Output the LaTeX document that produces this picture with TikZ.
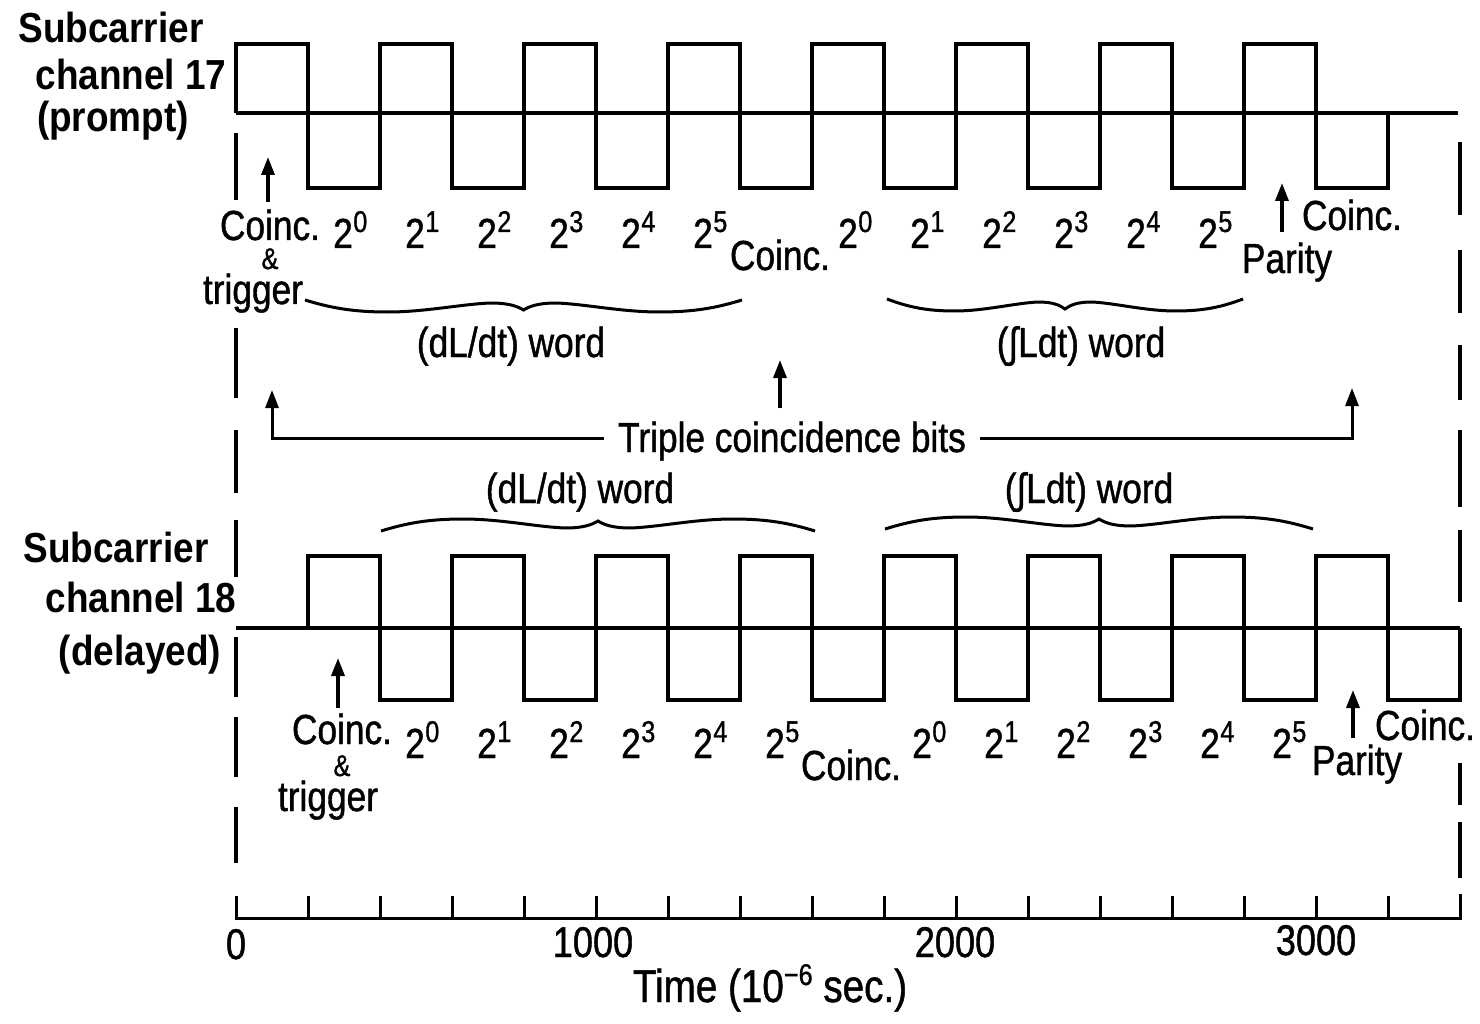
\documentclass[tikz,border=0pt]{standalone}
\usepackage{fontspec}
\setmainfont[FakeStretch=0.84,FakeBold=1]{Liberation Sans}
\newfontfamily\lblfont[FakeStretch=0.88]{Liberation Sans}
\usetikzlibrary{arrows.meta}
\newcommand\pwr[1]{2\kern0.5pt\raisebox{16pt}{\fontsize{30}{30}\selectfont #1}}
\newcommand\ampsign{{\fontsize{30}{30}\selectfont\&}}
% wavy brace: #1 = left x, #2 = half width, #3 = y of ends, #4 = +1 (tip down) or -1 (tip up)
\newcommand\wbrace[4]{%
  \draw[brc, shift={(#1,#3)}, xscale=#2, yscale=#4]
    (0,0) .. controls (0.12,8) and (0.22,12) .. (0.38,12)
          .. controls (0.55,12) and (0.72,4) .. (0.85,3)
          .. controls (0.93,3) and (0.97,6) .. (1,10)
          .. controls (1.03,6) and (1.07,3) .. (1.15,3)
          .. controls (1.28,4) and (1.45,12) .. (1.62,12)
          .. controls (1.78,12) and (1.88,8) .. (2,0);}
\begin{document}
\begin{tikzpicture}[x=1pt,y=-1pt,
  wave/.style={line width=3.4pt, line join=miter},
  txt/.style={font=\fontsize{42}{44}\selectfont, inner sep=0pt, anchor=base},
  bit/.style={txt, anchor=base west},
  num/.style={font=\fontsize{43}{45}\selectfont, inner sep=0pt, anchor=base},
  lbl/.style={font=\lblfont\bfseries\fontsize{42}{44}\selectfont, inner sep=0pt, anchor=base},
  arr/.style={line width=3.4pt, -{Triangle[length=18pt,width=13pt]}},
  dsh/.style={line width=4pt},
  brc/.style={line width=3pt},
]
\fill[white] (0,0) rectangle (1480,1024);
\useasboundingbox (0,0) rectangle (1480,1024);

% ---------- left labels ----------
\node[lbl] (s17a) at (111,43) {Subcarrier};
\node[lbl] (s17b) at (131,90) {channel 17};
\node[lbl] (s17c) at (113,132) {(prompt)};
\node[lbl] (s18a) at (116,562) {Subcarrier};
\node[lbl] (s18b) at (141,612) {channel 18};
\node[lbl] (s18c) at (140,665) {(delayed)};

% ---------- top waveform (channel 17) ----------
\draw[wave] (236,113) -- (1458,113);
\draw[wave] (236,113) -- (236,44) -- (308,44) -- (308,188) -- (380,188)
  -- (380,44) -- (452,44) -- (452,188) -- (524,188)
  -- (524,44) -- (596,44) -- (596,188) -- (668,188)
  -- (668,44) -- (740,44) -- (740,188) -- (812,188)
  -- (812,44) -- (884,44) -- (884,188) -- (956,188)
  -- (956,44) -- (1028,44) -- (1028,188) -- (1100,188)
  -- (1100,44) -- (1172,44) -- (1172,188) -- (1244,188)
  -- (1244,44) -- (1316,44) -- (1316,188) -- (1388,188) -- (1388,113);

% ---------- bottom waveform (channel 18) ----------
\draw[wave] (236,628) -- (1460,628);
\draw[wave] (308,628) -- (308,556) -- (380,556) -- (380,700) -- (452,700)
  -- (452,556) -- (524,556) -- (524,700) -- (596,700)
  -- (596,556) -- (668,556) -- (668,700) -- (740,700)
  -- (740,556) -- (812,556) -- (812,700) -- (884,700)
  -- (884,556) -- (956,556) -- (956,700) -- (1028,700)
  -- (1028,556) -- (1100,556) -- (1100,700) -- (1172,700)
  -- (1172,556) -- (1244,556) -- (1244,700) -- (1316,700)
  -- (1316,556) -- (1388,556) -- (1388,700) -- (1460,700) -- (1460,628);

% ---------- dashed verticals ----------
\foreach \a/\b in {133/200,328/398,430/493,520/577,637/697,717/777,807/863}
  \draw[dsh] (236,\a) -- (236,\b);
\foreach \a/\b in {142/215,250/313,345/400,430/507,530/602,763/805,822/878}
  \draw[dsh] (1460,\a) -- (1460,\b);

% ---------- time axis ----------
\draw[line width=3pt] (236,896) -- (236,918) -- (1460,918) -- (1460,894);
\foreach \k in {1,...,16}
  \draw[line width=3pt] ({236+72*\k},918) -- ({236+72*\k},896);
\node[num] (n0) at (236,959) {0};
\node[num] (n1) at (593,957) {1000};
\node[num] (n2) at (955,957) {2000};
\node[num] (n3) at (1316,955) {3000};
\node[txt, font=\fontsize{46}{48}\selectfont] (tax) at (770,1002) {Time (10\raisebox{17pt}{\fontsize{30}{30}\selectfont −6} sec.)};

% ---------- top row labels ----------
\node[txt] (tc1) at (270,240) {\begin{tabular}[t]{@{}c@{}}Coinc.\\[-15pt]\ampsign\\[-9pt]trigger\hspace*{34pt}\end{tabular}};
\foreach \k in {0,...,5} \node[bit] (ta\k) at ({333+72*\k},248) {\pwr{\k}};
\node[txt] (tc2) at (780,270) {Coinc.};
\foreach \k in {0,...,5} \node[bit] (tb\k) at ({838+72*\k},248) {\pwr{\k}};
\node[txt] (tp) at (1287,273) {Parity};
\node[txt] (tc3) at (1352,230) {Coinc.};
\coordinate (a1s) at (268,202); \coordinate (a1e) at (268,157);
\draw[arr] (a1s) -- (a1e);
\coordinate (a2s) at (1282,232); \coordinate (a2e) at (1282,183);
\draw[arr] (a2s) -- (a2e);

% ---------- top braces ----------
\wbrace{305}{218.5}{300}{1}
\node[txt] (w1) at (511,357) {(dL/dt) word};
\wbrace{887}{178}{299}{1}
\node[txt] (w2) at (1081,357) {(∫Ldt) word};

% ---------- triple coincidence ----------
\node[txt, text height=32pt, text depth=4pt, inner xsep=14pt] (tcb) at (792,452) {Triple coincidence bits};
\coordinate (tlt) at (272,390);
\coordinate (trt) at (1352,388);
\draw[arr, line width=3pt] (tcb.west) -| (tlt);
\draw[arr, line width=3pt] (tcb.east) -| (trt);
\coordinate (mas) at (780,408); \coordinate (mae) at (780,360);
\draw[arr] (mas) -- (mae);

% ---------- bottom braces ----------
\node[txt] (w3) at (580,503) {(dL/dt) word};
\wbrace{381}{217}{531}{-1}
\node[txt] (w4) at (1089,503) {(∫Ldt) word};
\wbrace{885}{214}{529}{-1}

% ---------- bottom row labels ----------
\node[txt] (bc1) at (342,744) {\begin{tabular}[t]{@{}c@{}}Coinc.\\[-12pt]\ampsign\\[-9pt]trigger\hspace*{28pt}\end{tabular}};
\foreach \k in {0,...,5} \node[bit] (ba\k) at ({405+72*\k},758) {\pwr{\k}};
\node[txt] (bc2) at (851,780) {Coinc.};
\foreach \k in {0,...,5} \node[bit] (bb\k) at ({912+72*\k},758) {\pwr{\k}};
\node[txt] (bp) at (1357,775) {Parity};
\node[txt] (bc3) at (1425,740) {Coinc.};
\coordinate (a3s) at (338,708); \coordinate (a3e) at (338,658);
\draw[arr] (a3s) -- (a3e);
\coordinate (a4s) at (1353,738); \coordinate (a4e) at (1353,690);
\draw[arr] (a4s) -- (a4e);
\end{tikzpicture}
\end{document}
